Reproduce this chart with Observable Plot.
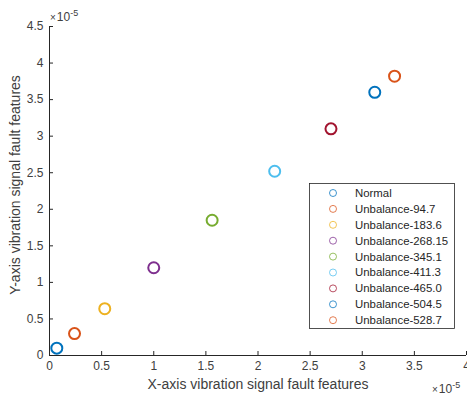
<!DOCTYPE html>
<html>
<head>
<meta charset="utf-8">
<script src="https://cdn.jsdelivr.net/npm/d3@7"></script>
<script src="https://cdn.jsdelivr.net/npm/@observablehq/plot@0.6"></script>
<style>
  html, body { margin: 0; padding: 0; background: #fff; }
  #chart { width: 467px; height: 398px; overflow: hidden; }
</style>
</head>
<body>
<div id="chart"></div>
<script>
// values in units of 1e-5
const names = ["Normal", "Unbalance-94.7", "Unbalance-183.6", "Unbalance-268.15", "Unbalance-345.1",
               "Unbalance-411.3", "Unbalance-465.0", "Unbalance-504.5", "Unbalance-528.7"];
const xValues = [0.07, 0.24, 0.53, 1.00, 1.56, 2.16, 2.70, 3.12, 3.31];
const yValues = [0.10, 0.30, 0.64, 1.20, 1.85, 2.52, 3.10, 3.60, 3.82];
const colors = ["#0072BD", "#D95319", "#EDB120", "#7E2F8E", "#77AC30", "#4DBEEE", "#A2142F", "#0072BD", "#D95319"];
const xTicks = [0, 0.5, 1, 1.5, 2, 2.5, 3, 3.5, 4];
const yTicks = [0, 0.5, 1, 1.5, 2, 2.5, 3, 3.5, 4, 4.5];
const xLabel = "X-axis vibration signal fault features";
const yLabel = "Y-axis vibration signal fault features";
const exponent = "-5";

const data = names.map((n, i) => ({name: n, x: xValues[i], y: yValues[i]}));
const fmt = d => String(d);

const W = 467, H = 398;
const mL = 49, mR = 1, mT = 26, mB = 43;
const frameH = H - mT - mB;
const frameW = W - mL - mR;

const plot = Plot.plot({
  width: W, height: H,
  marginLeft: mL, marginRight: mR, marginTop: mT, marginBottom: mB,
  style: {fontFamily: "'Liberation Sans', Arial, sans-serif", fontSize: "12px", color: "#404040", background: "white", overflow: "visible"},
  x: {domain: [0, 4], label: null},
  y: {domain: [0, 4.5], label: null},
  color: {domain: names, range: colors},
  marks: [
    Plot.axisX({ticks: xTicks, tickSize: 0, tickPadding: 6, tickFormat: fmt, label: null, fontSize: 12}),
    Plot.axisY({ticks: yTicks, tickSize: 0, tickPadding: 6, tickFormat: fmt, label: null, fontSize: 12}),
    Plot.ruleX(xTicks, {x: d => d, insetTop: frameH - 4, stroke: "#262626"}),
    Plot.ruleY(yTicks, {y: d => d, insetRight: frameW - 4, stroke: "#262626"}),
    Plot.ruleY([0], {stroke: "#262626"}),
    Plot.ruleX([0], {stroke: "#262626"}),
    Plot.dot(data, {x: "x", y: "y", stroke: "name", r: 5.5, strokeWidth: 2}),
    Plot.text([xLabel], {frameAnchor: "bottom", textAnchor: "middle", dy: 33, fontSize: 14, fill: "#404040"}),
    Plot.text([yLabel], {frameAnchor: "left", textAnchor: "middle", dx: -34, dy: -6, rotate: -90, fontSize: 14, fill: "#404040"})
  ]
});
document.getElementById("chart").appendChild(plot);

const svg = d3.select(plot);

// exponent annotations
function addExp(x, y) {
  const t = svg.append("text")
    .attr("x", x).attr("y", y)
    .attr("fill", "#404040")
    .attr("text-anchor", "start")
    .attr("font-family", "'Liberation Sans', Arial, sans-serif");
  t.append("tspan").attr("font-size", 10).text("×");
  t.append("tspan").attr("font-size", 12).attr("dx", 1).text("10");
  t.append("tspan").attr("font-size", 9).attr("dy", -5).text(exponent);
}
addExp(50, 21);
addExp(432, 393);

// legend
const lx = 309.5, ly = 183.5, lw = 145, lh = 145, rowH = 15.9, row0 = 193;
const lg = svg.append("g").attr("font-family", "'Liberation Sans', Arial, sans-serif").attr("font-size", 11.4).attr("text-anchor", "start");
lg.append("rect").attr("x", lx).attr("y", ly).attr("width", lw).attr("height", lh)
  .attr("fill", "white").attr("stroke", "#262626").attr("stroke-width", 0.8);
names.forEach((n, i) => {
  const yy = row0 + i * rowH;
  lg.append("circle").attr("cx", 333).attr("cy", yy).attr("r", 3.5)
    .attr("fill", "none").attr("stroke", colors[i]).attr("stroke-width", 1).attr("stroke-opacity", 0.75);
  lg.append("text").attr("x", 355).attr("y", yy).attr("dy", "0.35em").attr("fill", "#262626").text(n);
});
</script>
</body>
</html>
